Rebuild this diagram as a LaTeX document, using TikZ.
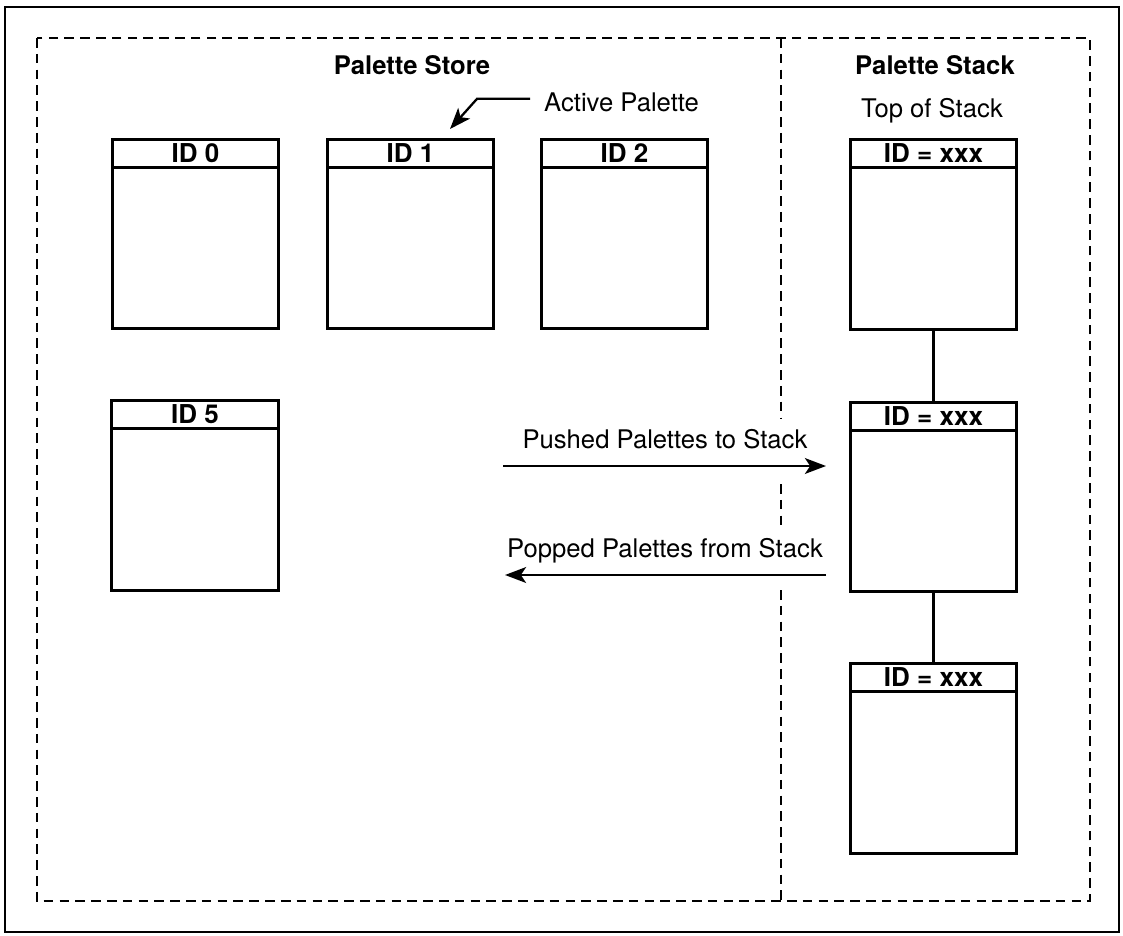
\documentclass[tikz,border=0pt]{standalone}
\usepackage{fontspec}
\setmainfont{TeX Gyre Heros}
\usepackage{tikz}
\usetikzlibrary{positioning, arrows.meta, calc}

\begin{document}
\begin{tikzpicture}[x=0.02cm, y=-0.02cm,
  font=\fontsize{14.6}{17.5}\selectfont,
  >={Stealth[length=12pt, width=9pt, inset=3pt]},
  palette/.style={draw, line width=1.7pt, minimum width=3.34cm,
    minimum height=3.8cm, inner sep=0pt},
  idbar/.style={draw, line width=1.7pt, anchor=north, minimum width=3.34cm,
    minimum height=0.56cm, inner sep=0pt, font=\fontsize{14.8}{17.5}\selectfont\bfseries},
  zone/.style={line width=1.1pt, dash pattern=on 5.5pt off 3.5pt},
  flow/.style={->, line width=1.3pt},
  title/.style={anchor=base, font=\fontsize{14.6}{17.5}\selectfont\bfseries}]

  % --- Page and frame ---
  \useasboundingbox (0,0) rectangle (1123,936);
  \draw[line width=1.6pt] (5,7) rectangle (1119,932);

  % --- Dashed zones (divider broken behind the push/pop labels) ---
  \draw[zone] (37,38) rectangle (1090,901);
  \draw[zone] (781,38) -- (781,418);
  \draw[zone] (781,484) -- (781,530);
  \draw[zone] (781,590) -- (781,901);

  % --- Titles ---
  \node[title] (store) at (412,75) {Palette Store};
  \node[title] (stack) at (935,75) {Palette Stack};
  \node[anchor=base] (top) at (932,118) {Top of Stack};

  % --- Palette store ---
  \node[palette] (id0) at (195.5,234) {};
  \node[idbar] (id0h) at (id0.north) {ID 0};
  \node[palette] (id1) at (410.5,234) {};
  \node[idbar] (id1h) at (id1.north) {ID 1};
  \node[palette] (id2) at (624.5,234) {};
  \node[idbar] (id2h) at (id2.north) {ID 2};
  \node[palette] (id5) at (195,495.5) {};
  \node[idbar] (id5h) at (id5.north) {ID 5};

  % --- Active palette pointer ---
  \node[anchor=base west] (active) at (538,112) {Active Palette};
  \coordinate (activeTip) at (450,129);
  \draw[flow] (active.west) ++(-8,-4) -- ++(-53,0) -- (activeTip);

  % --- Palette stack ---
  \node[palette] (s1) at (933.5,234.5) {};
  \node[idbar] (s1h) at (s1.north) {ID = xxx};
  \node[palette] (s2) at (933.5,497) {};
  \node[idbar] (s2h) at (s2.north) {ID = xxx};
  \node[palette] (s3) at (933.5,758.5) {};
  \node[idbar] (s3h) at (s3.north) {ID = xxx};
  \draw[line width=1.7pt] (s1) -- (s2);
  \draw[line width=1.7pt] (s2) -- (s3);

  % --- Push / pop ---
  \coordinate (pushFrom) at (503,466);
  \coordinate (pushTo) at (826,466);
  \node[anchor=base] (pushText) at (665,448) {Pushed Palettes to Stack};
  \draw[flow] (pushFrom) -- (pushTo);

  \coordinate (popFrom) at (826,575);
  \coordinate (popTo) at (505,575);
  \node[anchor=base] (popText) at (665,557) {Popped Palettes from Stack};
  \draw[flow] (popFrom) -- (popTo);

\end{tikzpicture}
\end{document}
